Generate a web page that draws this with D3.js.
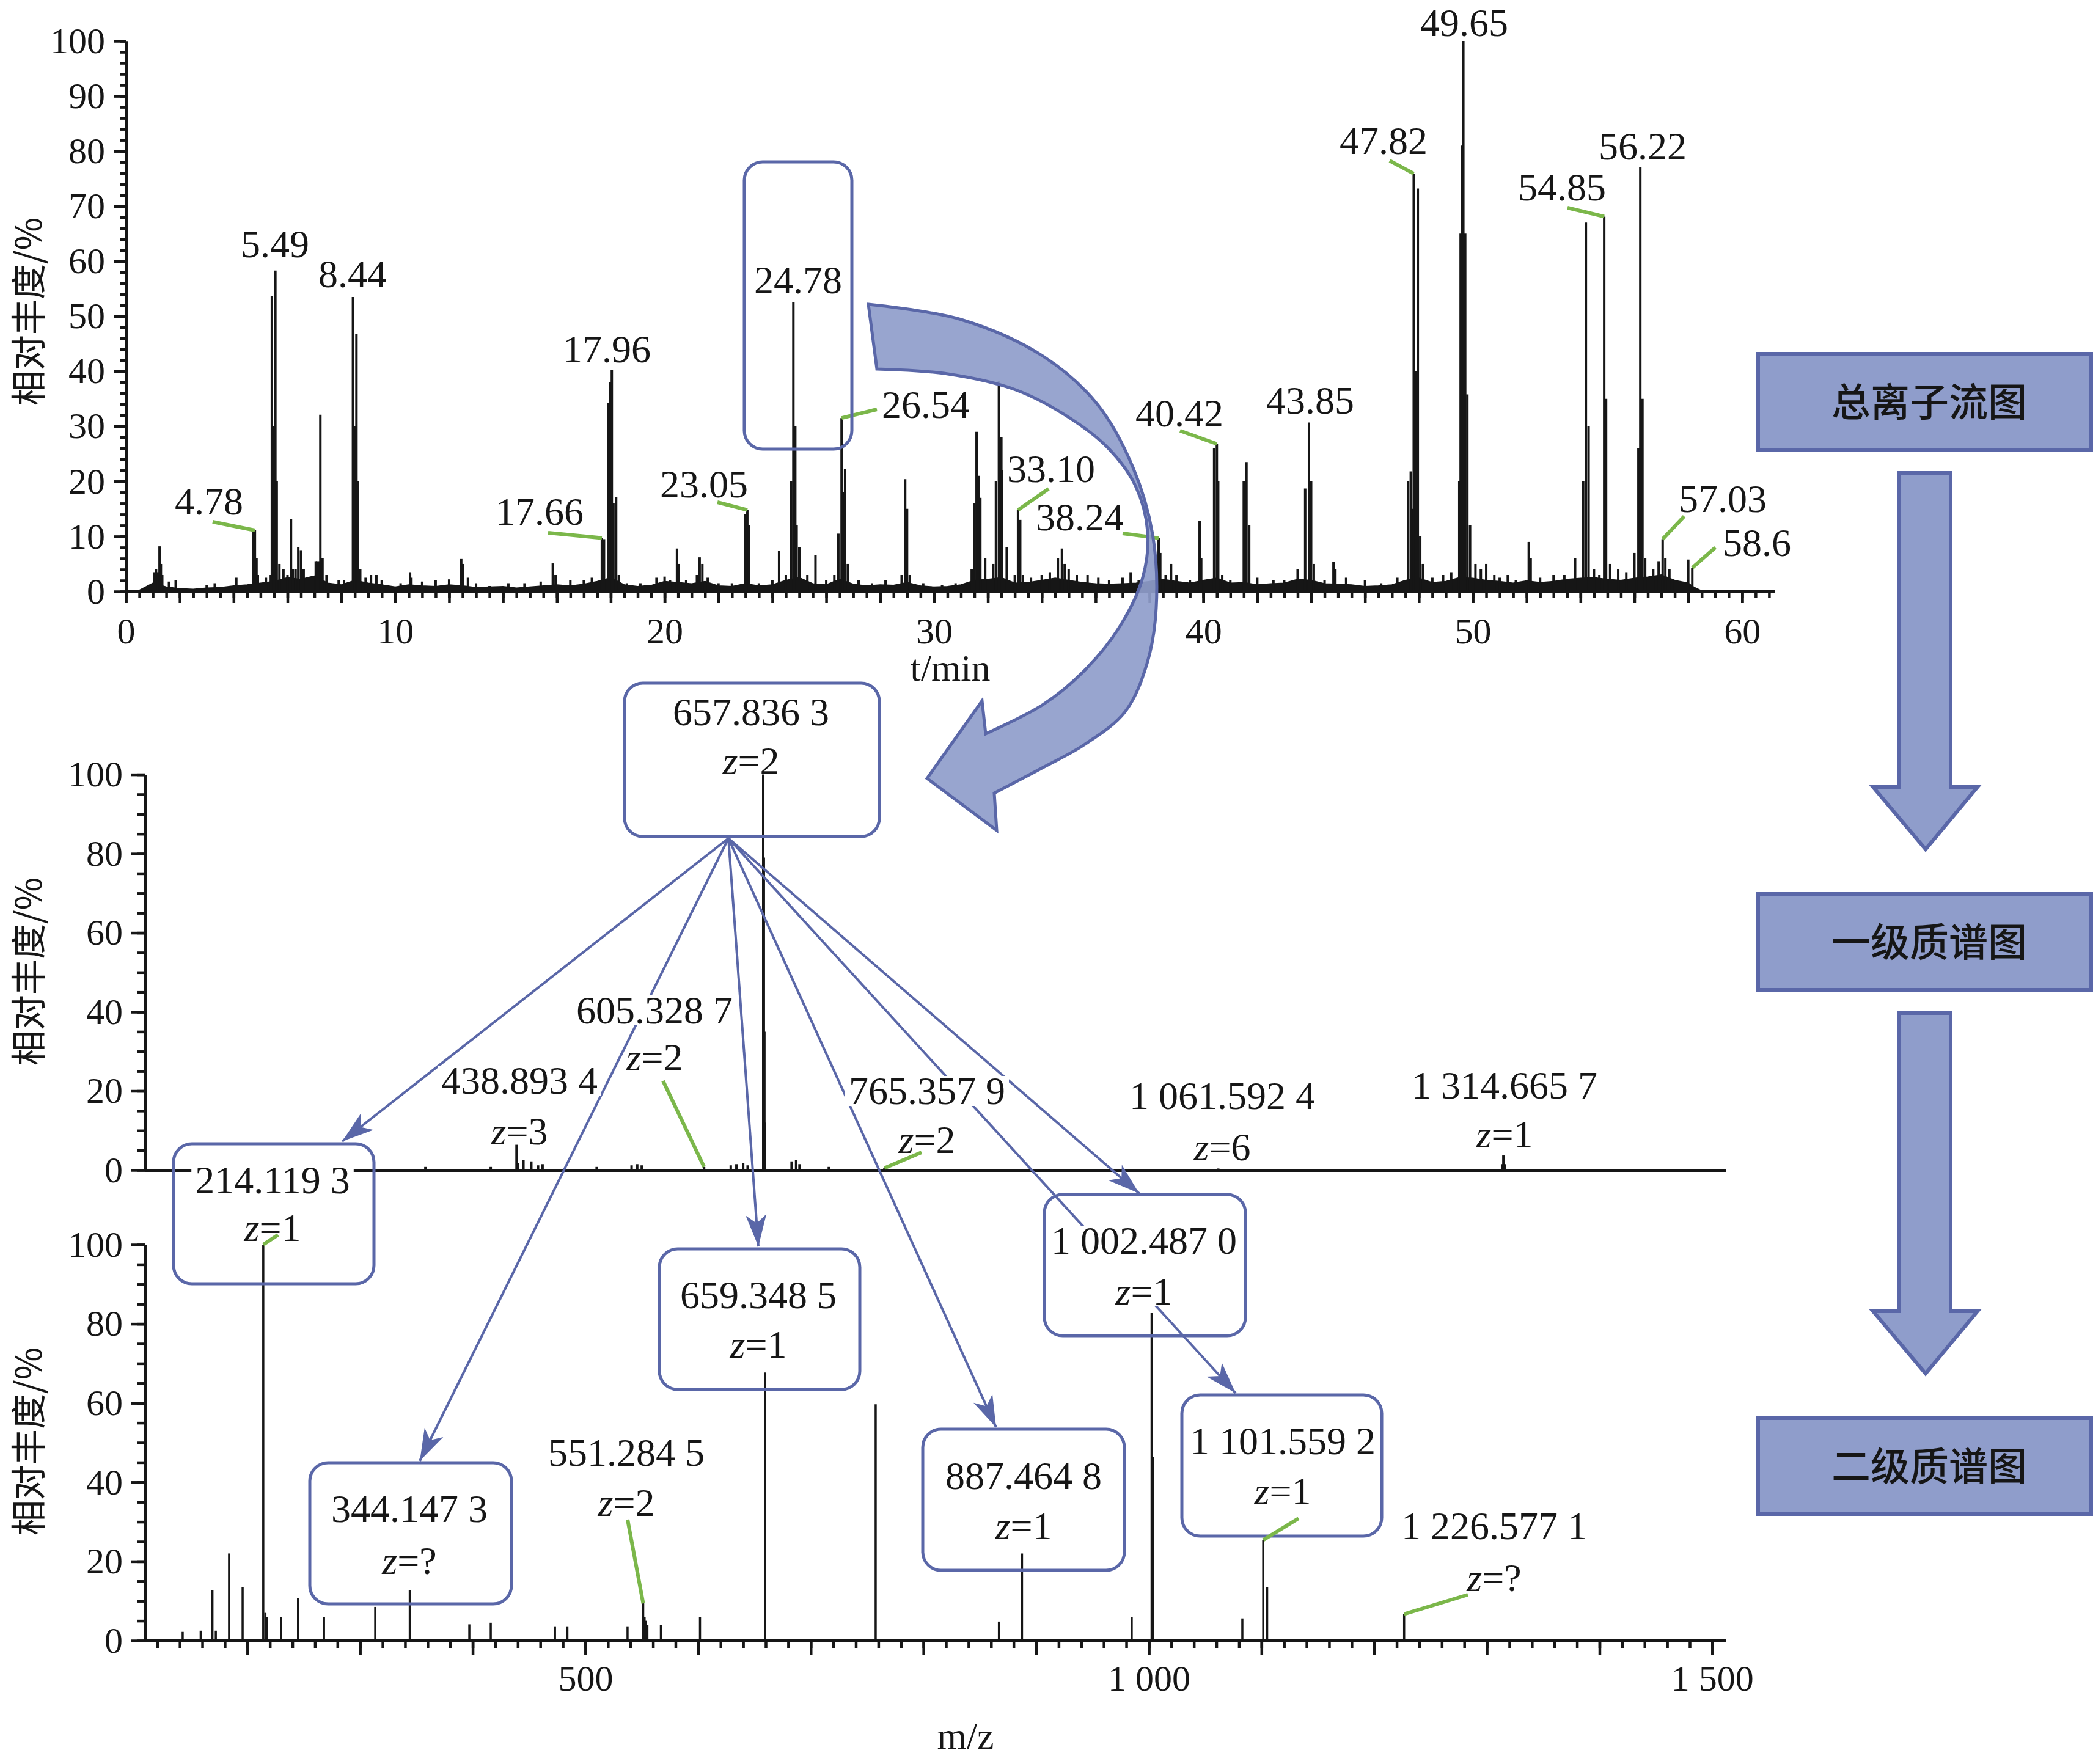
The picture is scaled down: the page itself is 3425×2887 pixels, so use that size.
<!DOCTYPE html>
<html>
<head>
<meta charset="utf-8">
<script src="https://d3js.org/d3.v7.min.js"></script>
<style>
    body { margin: 0; background: white; }
</style>
</head>
<body>
<div id="chart"></div>
<script>

// total ion chromatogram: [t (min), relative abundance (%)]
var ticPeaks = [
    [1.05, 3.5], [1.12, 4], [1.2, 3.5], [1.25, 8.2], [1.3, 5], [1.35, 3], [1.6, 1.8], [1.85, 2], [3.0, 1.2], [3.3, 1.5], [4.1, 2.5],
    [4.72, 11], [4.79, 11.1], [4.85, 6], [4.9, 3],
    [5.2, 2.5], [5.38, 3], [5.42, 53.6], [5.47, 30], [5.55, 58.3], [5.6, 20], [5.7, 5], [5.85, 4], [6.0, 3], [6.13, 13.2], [6.2, 4],
    [6.3, 4], [6.4, 8], [6.5, 7.5], [6.6, 4], [7.05, 5.5], [7.1, 5.5], [7.18, 5.5], [7.22, 32.1], [7.3, 6], [7.45, 3], [7.9, 2], [8.1, 2],
    [8.43, 53.5], [8.5, 30], [8.56, 46.8], [8.6, 20], [8.7, 4], [8.9, 2.5], [9.1, 3], [9.3, 3],
    [9.5, 2], [10.2, 1.5], [10.55, 3.5], [10.6, 2.5], [11.0, 1.8], [11.5, 2], [12.0, 2.2], [12.45, 5.9], [12.5, 5], [12.7, 2.5], [13.0, 1.5],
    [13.5, 1], [14.2, 1.5], [14.8, 1.5], [15.4, 1.8], [15.85, 5.1], [15.95, 3], [16.5, 2], [17.0, 2], [17.3, 2.5], [17.67, 9.7], [17.75, 9.5],
    [17.9, 34.3], [17.98, 38], [18.04, 40.3], [18.1, 16], [18.2, 17.1], [18.3, 3], [18.6, 1.5], [19.1, 1.5], [19.7, 2.5], [20.0, 2.7],
    [20.2, 2], [20.46, 7.8], [20.52, 5], [20.8, 2], [21.2, 3], [21.3, 6.2], [21.4, 5], [21.6, 2.5], [22.0, 1.5], [22.5, 1.5],
    [23.0, 14], [23.07, 14.8], [23.13, 12], [23.5, 1.5], [24.0, 2], [24.25, 7.4], [24.5, 3], [24.7, 20], [24.78, 52.5], [24.85, 30],
    [24.9, 12], [25.0, 8], [25.3, 3], [25.6, 6.6], [26.0, 2], [26.3, 3], [26.45, 10.5], [26.57, 31.5], [26.62, 18], [26.7, 22.2], [26.8, 5],
    [27.2, 2], [27.7, 1.5], [28.2, 2], [28.8, 3], [28.93, 20.4], [29.0, 15], [29.1, 3], [29.6, 1.5], [30.3, 1.2], [30.8, 1.5],
    [31.4, 4], [31.5, 16], [31.58, 29], [31.65, 21], [31.72, 17], [31.9, 6], [32.2, 5], [32.3, 20], [32.41, 38.2], [32.5, 28], [32.53, 22],
    [32.7, 8], [33.0, 3], [33.12, 14.8], [33.2, 13], [33.3, 3], [33.6, 2.5], [34.0, 3], [34.3, 3.5], [34.6, 6], [34.75, 7.8], [34.85, 5],
    [35.0, 4], [35.3, 3], [35.7, 3], [36.1, 2.5], [36.5, 2], [37.0, 2.5], [37.3, 3.5], [37.6, 2], [38.34, 9.7], [38.4, 7], [38.6, 3],
    [38.8, 5], [39.0, 3], [39.5, 2], [39.86, 12.8], [39.92, 6], [40.4, 26], [40.5, 26.8], [40.55, 20], [40.7, 3], [41.0, 2], [41.5, 20],
    [41.6, 23.5], [41.7, 12], [42.0, 2.5], [42.6, 2], [43.0, 2], [43.5, 4], [43.78, 18.7], [43.92, 30.7], [44.0, 20], [44.1, 5], [44.5, 2],
    [44.83, 5.4], [44.9, 4], [45.3, 2.5], [46.0, 2], [46.6, 1.5], [47.2, 2.5],
    [47.6, 20], [47.7, 21.8], [47.75, 15], [47.81, 75.9], [47.88, 40], [47.96, 73.2], [48.05, 10], [48.15, 5], [48.5, 2.5], [48.9, 3],
    [49.2, 3.5], [49.5, 20], [49.55, 65], [49.6, 81], [49.65, 100], [49.72, 65], [49.8, 35.8], [49.9, 12], [50.1, 5], [50.3, 4], [50.5, 5],
    [50.8, 3], [51.0, 2.5], [51.3, 3], [51.6, 2], [52.08, 9], [52.15, 6],
    [52.5, 2.5], [53.0, 3], [53.4, 3], [53.8, 6], [54.1, 20], [54.2, 67], [54.3, 30], [54.5, 4], [54.7, 3], [54.88, 68.1], [54.95, 35],
    [55.1, 5], [55.4, 4], [55.7, 3.5], [56.0, 7], [56.15, 26], [56.22, 77.1], [56.3, 35], [56.4, 6], [56.7, 4], [56.9, 5.5], [57.05, 9.5],
    [57.15, 6], [57.3, 4], [57.5, 2], [58.0, 5.8], [58.15, 4.3]
]
var ticBaseline = [
    [0, 0.2], [0.5, 0.2], [1, 1.5], [1.5, 0.8], [2, 0.5], [2.5, 0.4], [3, 0.6], [3.5, 0.7], [4, 1.0], [4.5, 1.2], [5, 1.5], [5.5, 1.8],
    [6, 2.5], [6.5, 2.2], [7, 2.8], [7.5, 1.5], [8, 1.2], [8.5, 2.0], [9, 1.5], [9.5, 1.2], [10, 0.8], [10.5, 1.2], [11, 1.0], [11.5, 0.9],
    [12, 1.2], [12.5, 1.0], [13, 0.7], [13.5, 0.8], [14, 0.9], [14.5, 0.6], [15, 0.8], [15.5, 1.0], [16, 1.2], [16.5, 1.0], [17, 1.3],
    [17.5, 1.8], [18, 2.5], [18.5, 1.2], [19, 0.9], [19.5, 1.1], [20, 1.8], [20.5, 1.6], [21, 1.4], [21.5, 1.8], [22, 1.0], [22.5, 0.9],
    [23, 1.4], [23.5, 1.0], [24, 1.2], [24.5, 2.0], [25, 2.5], [25.5, 1.4], [26, 1.2], [26.5, 2.2], [27, 1.3], [27.5, 1.0], [28, 1.2],
    [28.5, 1.1], [29, 1.6], [29.5, 1.0], [30, 0.8], [30.5, 0.9], [31, 1.2], [31.5, 2.0], [32, 2.2], [32.5, 2.5], [33, 1.5], [33.5, 1.6],
    [34, 2.0], [34.5, 2.4], [35, 2.0], [35.5, 1.6], [36, 1.4], [36.5, 1.3], [37, 1.4], [37.5, 1.5], [38, 1.8], [38.5, 2.2], [39, 1.8],
    [39.5, 1.5], [40, 2.0], [40.5, 2.4], [41, 1.5], [41.5, 1.6], [42, 1.2], [42.5, 1.4], [43, 1.5], [43.5, 2.2], [44, 2.0], [44.5, 1.4],
    [45, 1.3], [45.5, 1.2], [46, 0.9], [46.5, 1.0], [47, 1.2], [47.5, 2.0], [48, 2.4], [48.5, 1.6], [49, 1.8], [49.5, 2.5], [50, 2.4],
    [50.5, 2.0], [51, 1.8], [51.5, 1.5], [52, 1.9], [52.5, 1.6], [53, 1.8], [53.5, 2.2], [54, 2.4], [54.5, 2.5], [55, 2.2], [55.5, 2.0],
    [56, 2.4], [56.5, 2.6], [57, 3.0], [57.5, 2.0], [58, 1.5], [58.2, 0.8], [58.5, 0.1], [59, 0], [61.2, 0]
]
var ticPeakLabels = ['4.78', '5.49', '8.44', '17.66', '17.96', '23.05', '24.78', '26.54', '33.10', '38.24', '40.42', '43.85', '47.82', '49.65', '54.85', '56.22', '57.03', '58.6']
var ticLeaderPeaks = [[4.79, 11.1], [17.67, 9.7], [23.07, 14.8], [26.57, 31.5], [33.12, 14.8], [38.34, 9.7], [40.5, 26.8], [47.81, 75.9], [54.88, 68.1], [57.05, 9.5], [58.15, 4.3]]

// first-order mass spectrum: [m/z, relative abundance (%)]
var ms1Peaks = [
    [358, 0.8], [416, 0.8], [438.89, 6.4], [440, 1.8], [445, 2.5], [452, 2.2], [458, 1.2], [462, 1.5], [510, 0.8], [541, 1.2], [546, 1.5],
    [550, 1.2], [605.33, 0.8], [629, 1.2], [634, 1.5], [640, 1.8], [644, 1.2], [657.84, 100], [658.34, 79], [658.84, 35], [659.34, 12],
    [683, 2.2], [687, 2.5], [690, 1.5], [716, 0.8], [765.36, 0.5], [1061.59, 0.4], [1313.5, 1.5], [1314.67, 3.7], [1315.8, 1.5]
]
var precursorMass = '657.836 3'
var precursorCharge = '2'
var ms1Masses = ['438.893 4', '605.328 7', '765.357 9', '1 061.592 4', '1 314.665 7']
var ms1Charges = ['3', '2', '2', '6', '1']
var ms1LeaderPeaks = [[605.33, 0.8], [765.36, 0.5]]

// second-order mass spectrum: [m/z, relative abundance (%)]
var ms2Peaks = [
    [142.6, 2.2], [158.6, 2.5], [169, 12.8], [172, 2.5], [183.8, 22], [195.8, 13.5], [214.12, 100], [216, 7], [217.5, 6], [230, 6],
    [245, 10.7], [268, 6], [313.5, 8.5], [344.15, 12.8], [397, 4.1], [416, 4.5], [473, 3.6], [484, 3.6], [537.4, 3.6], [551.28, 9.4],
    [552.5, 6], [553.5, 5], [555, 4], [567, 4], [601.7, 6], [659.35, 67.7], [757.6, 59.7], [867, 4.8], [887.46, 22], [984.8, 6],
    [1002.49, 82.7], [1003.5, 46.3], [1083, 5.6], [1101.56, 25.4], [1105, 13.5], [1226.58, 6.7]
]
var ms2BoxMasses = ['214.119 3', '344.147 3', '659.348 5', '887.464 8', '1 002.487 0', '1 101.559 2']
var ms2BoxCharges = ['1', '?', '1', '1', '1', '1']
var ms2Masses = ['551.284 5', '1 226.577 1']
var ms2Charges = ['2', '?']
var ms2LeaderPeaks = [[214.12, 100], [551.28, 9.4], [1101.56, 25.4], [1226.58, 6.7]]

var yTitle = '相对丰度/%'
var steps = ['总离子流图', '一级质谱图', '二级质谱图']

// ---------- layout (pixels) ----------
var layout = {
    width: 3425,
    height: 2887,
    ticLabelPos: [[342, 842], [450, 421], [577, 470], [883, 859], [993, 593], [1152, 814], [1306, 480], [1515, 684], [1720, 789], [1767, 868],
        [1930, 698], [2144, 677], [2264, 252], [2396, 59], [2556, 328], [2688, 261], [2819, 838], [2875, 910]],
    ticLeaderEnds: [[348, 854], [897, 872], [1174, 822], [1435, 670], [1716, 800], [1837, 873], [1931, 705], [2274, 263], [2565, 340], [2756, 845], [2807, 896]],
    ticBox: [1218, 265, 176, 470],
    precursorBox: [1022, 1118, 417, 251],
    precursorText: [1229, 1187, 1267],
    ms1LabelPos: [[850, 1790, 1873], [1071, 1675, 1752], [1517, 1807, 1887], [2000, 1815, 1899], [2462, 1798, 1878]],
    ms1LeaderEnds: [[1085, 1769], [1508, 1886]],
    ms2Boxes: [[284, 1872, 328, 229], [507, 2394, 330, 231], [1079, 2044, 328, 230], [1510, 2339, 330, 231], [1709, 1955, 329, 231], [1934, 2283, 327, 231]],
    ms2BoxText: [[446, 1953, 2031], [670, 2491, 2576], [1241, 2141, 2222], [1675, 2437, 2519], [1872, 2052, 2135], [2099, 2380, 2462]],
    ms2LabelPos: [[1025, 2399, 2481], [2445, 2519, 2604]],
    ms2LeaderEnds: [[455, 2021], [1027, 2487], [2125, 2485], [2402, 2610]],
    fanOrigin: [1192, 1372],
    fanTips: [[560, 1868], [687, 2391], [1241, 2040], [1630, 2336], [1864, 1953], [2022, 2280]],
    stepBoxes: [[2877, 579, 545, 157], [2877, 1463, 545, 157], [2877, 2321, 545, 157]]
}

var INK = '#161616'
var BLUE = '#5a67a8'
var FILL = '#8f9dcb'
var GREEN = '#7bb74a'
var SERIF = "'Liberation Serif', 'Times New Roman', serif"
var CJK = "'Noto Sans CJK SC', sans-serif"

var svg = d3.select('#chart').append('svg')
    .attr('width', layout.width)
    .attr('height', layout.height)
    .attr('viewBox', '0 0 ' + layout.width + ' ' + layout.height)

svg.append('rect').attr('width', '100%').attr('height', '100%').attr('fill', 'white')

var x = d3.scaleLinear().domain([0, 61.2]).range([206, 2903.7])
var y = d3.scaleLinear().domain([0, 100]).range([968, 67])
var mz = d3.scaleLinear().domain([109, 1512]).range([237, 2824])
var y1 = d3.scaleLinear().domain([0, 100]).range([1915, 1267.6])
var y2 = d3.scaleLinear().domain([0, 100]).range([2685, 2037])

svg.append('defs').append('marker')
    .attr('id', 'head')
    .attr('markerUnits', 'userSpaceOnUse')
    .attr('viewBox', '-60 -20 62 40')
    .attr('markerWidth', 62).attr('markerHeight', 40)
    .attr('refX', 0).attr('refY', 0)
    .attr('orient', 'auto')
    .append('path')
    .attr('d', 'M0,0 L-52,-17 L-38,0 L-52,17 Z')
    .attr('fill', BLUE)

function drawAxis(axis, transform) {
    var g = svg.append('g').attr('transform', transform).call(axis)
    g.select('.domain').attr('stroke', INK).attr('stroke-width', 5)
    g.selectAll('.tick line').attr('stroke', INK).attr('stroke-width', 4.5)
    g.selectAll('text').attr('font-family', SERIF).attr('font-size', 60).attr('fill', INK)
    return g
}

// baseline sits on the right because of the -90 rotation
function yAxisTitle(cy) {
    svg.append('text')
        .attr('transform', 'translate(68,' + cy + ') rotate(-90)')
        .attr('text-anchor', 'middle')
        .attr('font-family', CJK)
        .attr('font-size', 58)
        .attr('fill', INK)
        .text(yTitle)
}

function leader(x1, y1, x2, y2) {
    svg.append('line')
        .attr('x1', x1).attr('y1', y1).attr('x2', x2).attr('y2', y2)
        .attr('stroke', GREEN).attr('stroke-width', 6)
}

function numText(g, cx, by, str) {
    return g.append('text')
        .attr('x', cx).attr('y', by)
        .attr('text-anchor', 'middle')
        .attr('font-family', SERIF).attr('font-size', 64).attr('fill', INK)
        .text(str)
}

function zText(g, cx, by, charge) {
    var t = g.append('text')
        .attr('x', cx).attr('y', by)
        .attr('text-anchor', 'middle')
        .attr('font-family', SERIF).attr('font-size', 64).attr('fill', INK)
    t.append('tspan').attr('font-style', 'italic').text('z')
    t.append('tspan').text('=' + charge)
    return t
}

function backdrop(g, nodes) {
    var boxes = nodes.map(function (n) { return n.node().getBBox() })
    var x0 = d3.min(boxes, function (b) { return b.x }) - 6
    var x1 = d3.max(boxes, function (b) { return b.x + b.width }) + 6
    var top = d3.min(nodes, function (n) { return +n.attr('y') }) - 46
    var bottom = d3.max(nodes, function (n) { return +n.attr('y') }) + 3
    g.insert('rect', function () { return nodes[0].node() })
        .attr('x', x0).attr('y', top).attr('width', x1 - x0).attr('height', bottom - top)
        .attr('fill', 'white')
}

function roundBox(g, b) {
    g.append('rect')
        .attr('x', b[0]).attr('y', b[1]).attr('width', b[2]).attr('height', b[3])
        .attr('rx', 30).attr('ry', 30)
        .attr('fill', 'none').attr('stroke', BLUE).attr('stroke-width', 5)
}

// ---------- total ion chromatogram ----------
svg.append('path')
    .datum(ticBaseline)
    .attr('d', d3.area().x(function (d) { return x(d[0]) }).y0(y(0)).y1(function (d) { return y(d[1]) }))
    .attr('fill', INK).attr('stroke', INK).attr('stroke-width', 2)

svg.append('g').selectAll('line')
    .data(ticPeaks)
    .join('line')
    .attr('x1', function (d) { return x(d[0]) }).attr('x2', function (d) { return x(d[0]) })
    .attr('y1', y(0)).attr('y2', function (d) { return y(d[1]) })
    .attr('stroke', INK).attr('stroke-width', 4)

drawAxis(d3.axisLeft(y).tickValues(d3.range(0, 101, 2)).tickSize(10).tickFormat('').tickSizeOuter(0), 'translate(206,0)')
drawAxis(d3.axisLeft(y).tickValues(d3.range(0, 101, 10)).tickSize(20).tickPadding(14).tickSizeOuter(0), 'translate(206,0)')
drawAxis(d3.axisBottom(x).tickValues(d3.range(0, 61.01, 0.5)).tickSize(10).tickFormat('').tickSizeOuter(0), 'translate(0,968)')
drawAxis(d3.axisBottom(x).tickValues(d3.range(0, 61.01, 2)).tickSize(19).tickFormat('').tickSizeOuter(0), 'translate(0,968)')
drawAxis(d3.axisBottom(x).tickValues(d3.range(0, 61, 10)).tickSize(19).tickPadding(23).tickSizeOuter(0), 'translate(0,968)')

svg.append('text').attr('x', 1555).attr('y', 1114).attr('text-anchor', 'middle')
    .attr('font-family', SERIF).attr('font-size', 62).attr('fill', INK).text('t/min')
yAxisTitle(510)

ticLeaderPeaks.forEach(function (p, i) {
    var e = layout.ticLeaderEnds[i]
    leader(x(p[0]), y(p[1]), e[0], e[1])
})
var ticText = svg.append('g')
ticPeakLabels.forEach(function (s, i) {
    numText(ticText, layout.ticLabelPos[i][0], layout.ticLabelPos[i][1], s)
})
roundBox(svg, layout.ticBox)

// ---------- MS1 ----------
svg.append('g').selectAll('line')
    .data(ms1Peaks)
    .join('line')
    .attr('x1', function (d) { return mz(d[0]) }).attr('x2', function (d) { return mz(d[0]) })
    .attr('y1', y1(0)).attr('y2', function (d) { return y1(d[1]) })
    .attr('stroke', INK).attr('stroke-width', 4)

drawAxis(d3.axisLeft(y1).tickValues(d3.range(0, 101, 5)).tickSize(12).tickFormat('').tickSizeOuter(0), 'translate(237,0)')
drawAxis(d3.axisLeft(y1).tickValues(d3.range(0, 101, 20)).tickSize(22).tickPadding(14).tickSizeOuter(0), 'translate(237,0)')
drawAxis(d3.axisBottom(mz).tickValues([]).tickSizeOuter(0), 'translate(0,1915)')
yAxisTitle(1590)

// ---------- MS2 ----------
svg.append('g').selectAll('line')
    .data(ms2Peaks)
    .join('line')
    .attr('x1', function (d) { return mz(d[0]) }).attr('x2', function (d) { return mz(d[0]) })
    .attr('y1', y2(0)).attr('y2', function (d) { return y2(d[1]) })
    .attr('stroke', INK).attr('stroke-width', 3.5)

function groupThousands(v) {
    return String(v).replace(/(\d)(\d{3})$/, '$1 $2')
}
drawAxis(d3.axisLeft(y2).tickValues(d3.range(0, 101, 5)).tickSize(12).tickFormat('').tickSizeOuter(0), 'translate(237,0)')
drawAxis(d3.axisLeft(y2).tickValues(d3.range(0, 101, 20)).tickSize(22).tickPadding(14).tickSizeOuter(0), 'translate(237,0)')
drawAxis(d3.axisBottom(mz).tickValues(d3.range(120, 1501, 20)).tickSize(12).tickFormat('').tickSizeOuter(0), 'translate(0,2685)')
drawAxis(d3.axisBottom(mz).tickValues(d3.range(200, 1501, 100)).tickSize(24).tickFormat('').tickSizeOuter(0), 'translate(0,2685)')
drawAxis(d3.axisBottom(mz).tickValues([500, 1000, 1500]).tickSize(24).tickPadding(15).tickFormat(groupThousands).tickSizeOuter(0), 'translate(0,2685)')
svg.append('text').attr('x', 1580).attr('y', 2862).attr('text-anchor', 'middle')
    .attr('font-family', SERIF).attr('font-size', 62).attr('fill', INK).text('m/z')
yAxisTitle(2359)

// ---------- fan of fragment arrows ----------
var fan = svg.append('g')
layout.fanTips.forEach(function (t) {
    fan.append('line')
        .attr('x1', layout.fanOrigin[0]).attr('y1', layout.fanOrigin[1])
        .attr('x2', t[0]).attr('y2', t[1])
        .attr('stroke', BLUE).attr('stroke-width', 4)
        .attr('marker-end', 'url(#head)')
})

// ---------- labels ----------
var labels = svg.append('g')

roundBox(labels, layout.precursorBox)
numText(labels, layout.precursorText[0], layout.precursorText[1], precursorMass)
zText(labels, layout.precursorText[0], layout.precursorText[2], precursorCharge)

ms1Masses.forEach(function (m, i) {
    var p = layout.ms1LabelPos[i]
    var a = numText(labels, p[0], p[1], m)
    zText(labels, p[0], p[2], ms1Charges[i])
    backdrop(labels, [a])
})

ms2BoxMasses.forEach(function (m, i) {
    var p = layout.ms2BoxText[i]
    roundBox(labels, layout.ms2Boxes[i])
    var a = numText(labels, p[0], p[1], m)
    var b = zText(labels, p[0], p[2], ms2BoxCharges[i])
    backdrop(labels, i === 4 ? [a, b] : [a])
})

ms2Masses.forEach(function (m, i) {
    var p = layout.ms2LabelPos[i]
    numText(labels, p[0], p[1], m)
    zText(labels, p[0], p[2], ms2Charges[i])
})

ms1LeaderPeaks.forEach(function (p, i) {
    var e = layout.ms1LeaderEnds[i]
    leader(mz(p[0]), y1(p[1]), e[0], e[1])
})
ms2LeaderPeaks.forEach(function (p, i) {
    var e = layout.ms2LeaderEnds[i]
    leader(mz(p[0]), y2(p[1]), e[0], e[1])
})

// ---------- curved arrow from TIC peak to MS1 (twisted ribbon) ----------
var outer = [[1421, 498], [1573, 523], [1707, 583], [1796, 662], [1854, 765], [1886, 874], [1892, 995], [1877, 1086], [1841, 1165], [1774, 1219], [1707, 1256], [1627, 1298]]
var head = [[1631, 1359], [1517, 1274], [1607, 1147], [1613, 1201]]
var inner = [[1613, 1201], [1707, 1153], [1774, 1098], [1832, 1026], [1870, 945], [1878, 870], [1858, 795], [1815, 735], [1752, 685], [1662, 638], [1551, 612], [1435, 604]]
var smooth = d3.line().curve(d3.curveCatmullRom.alpha(0.5))
var bend = smooth(outer) + 'L' + head.map(function (p) { return p.join(',') }).join('L') + smooth(inner).replace(/^M/, 'L') + 'Z'
svg.append('path')
    .attr('d', bend)
    .attr('fill', FILL).attr('fill-opacity', 0.92)
    .attr('stroke', BLUE).attr('stroke-width', 5)

// ---------- workflow boxes ----------
var flow = svg.append('g')
layout.stepBoxes.forEach(function (b, i) {
    flow.append('rect')
        .attr('x', b[0]).attr('y', b[1]).attr('width', b[2]).attr('height', b[3])
        .attr('fill', FILL).attr('stroke', BLUE).attr('stroke-width', 6)
    flow.append('text')
        .attr('x', 3157).attr('y', b[1] + b[3] / 2)
        .attr('dy', '0.36em')
        .attr('text-anchor', 'middle')
        .attr('font-family', CJK).attr('font-size', 64).attr('font-weight', 500)
        .attr('fill', INK)
        .text(steps[i])
    if (i < layout.stepBoxes.length - 1) {
        var top = b[1] + b[3] + 38
        var next = layout.stepBoxes[i + 1][1]
        var tip = next - 73
        var neck = tip - 102
        flow.append('path')
            .attr('d', 'M3108,' + top + 'H3192V' + neck + 'H3236L3151,' + tip + 'L3065,' + neck + 'H3108Z')
            .attr('fill', FILL).attr('stroke', BLUE).attr('stroke-width', 6)
    }
})

</script>
</body>
</html>
